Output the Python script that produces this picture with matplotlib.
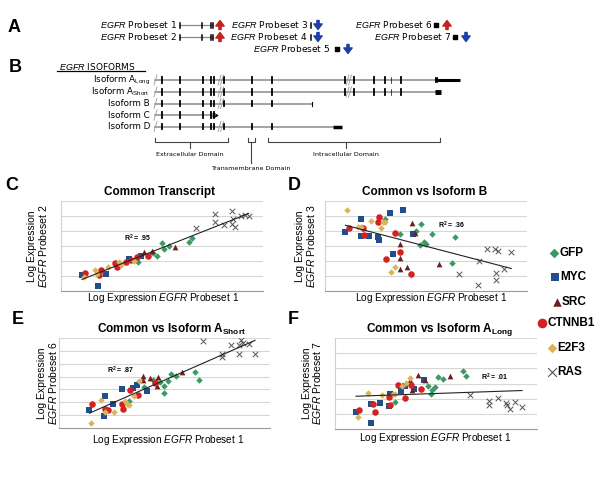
import numpy as np
import matplotlib.pyplot as plt

plt.rcParams['font.family'] = ['Liberation Sans', 'DejaVu Sans']
plt.rcParams['mathtext.fontset'] = 'custom'
plt.rcParams['mathtext.rm'] = 'Liberation Sans'
plt.rcParams['mathtext.it'] = 'Liberation Sans:italic'
plt.rcParams['mathtext.bf'] = 'Liberation Sans:bold'

# ---- scatter data (log expression, arbitrary units) ----
groups = ["GFP", "MYC", "SRC", "CTNNB1", "E2F3", "RAS"]

c_gfp = [(3.81, 1.96), (4.77, 2.36), (5.0, 3.18), (5.10, 2.80), (5.35, 2.98), (6.32, 3.25), (6.50, 3.51), (4.55, 2.54)]
c_myc = [(1.04, 1.08), (1.83, 0.35), (2.21, 1.15), (3.35, 2.14), (3.98, 2.32)]
c_src = [(4.11, 2.63), (4.50, 2.69), (5.66, 2.91)]
c_ctnnb1 = [(1.20, 1.19), (1.86, 1.04), (1.96, 1.43), (2.69, 1.88), (2.76, 1.57), (3.23, 1.92), (3.48, 2.10), (3.78, 2.27), (4.31, 2.36)]
c_e2f3 = [(1.14, 0.93), (1.67, 1.37), (1.78, 1.13), (2.33, 1.63), (2.85, 1.96), (2.99, 1.74), (3.61, 2.01)]
c_ras = [(6.70, 4.19), (7.61, 5.12), (7.64, 4.57), (8.05, 4.42), (8.48, 5.34), (8.51, 4.79), (8.47, 4.50), (8.63, 4.28), (8.93, 4.97), (9.13, 5.06), (9.29, 4.97)]

d_gfp = [(2.95, 4.81), (3.73, 3.82), (4.52, 4.00), (4.74, 4.48), (4.72, 3.05), (4.92, 3.27), (5.02, 3.11), (5.30, 3.82), (6.45, 3.62), (6.29, 1.90)]
d_myc = [(1.01, 3.93), (1.77, 4.81), (1.80, 3.66), (2.16, 3.66), (2.62, 3.62), (2.66, 3.38), (3.22, 5.17), (3.88, 5.39), (3.37, 2.45), (4.34, 3.77)]
d_src = [(4.31, 4.55), (3.73, 3.16), (3.73, 2.23), (3.70, 1.50), (4.06, 1.61), (5.63, 1.79), (4.47, 3.89)]
d_ctnnb1 = [(1.17, 4.22), (1.86, 4.17), (1.91, 3.73), (2.66, 4.94), (2.62, 4.59), (3.45, 3.84), (3.71, 2.60), (3.04, 2.12), (4.26, 1.13)]
d_e2f3 = [(1.09, 5.43), (1.63, 4.28), (1.80, 4.28), (2.29, 4.66), (2.79, 4.22), (2.85, 4.59), (2.99, 4.59), (3.48, 1.63), (3.25, 1.24)]
d_ras = [(8.02, 2.78), (8.40, 2.78), (8.56, 2.67), (9.22, 2.60), (7.61, 2.01), (6.65, 1.13), (8.47, 1.19), (8.84, 1.50), (7.57, 0.40), (8.47, 0.75)]

e_gfp = [(3.30, 2.07), (4.04, 3.19), (4.44, 3.76), (4.79, 3.55), (4.99, 3.29), (4.99, 2.72), (5.18, 3.63), (5.31, 4.17), (5.55, 4.02), (6.46, 4.33), (6.62, 3.76)]
e_myc = [(1.44, 1.42), (2.15, 0.96), (2.18, 2.51), (2.54, 1.89), (2.99, 3.03), (3.52, 3.11), (3.68, 3.37), (4.17, 2.85)]
e_src = [(3.97, 4.02), (4.00, 3.76), (4.33, 3.89), (4.60, 3.63), (4.71, 3.96), (4.63, 3.29), (5.83, 4.35)]
e_ctnnb1 = [(1.55, 1.89), (2.20, 1.48), (2.31, 1.37), (2.97, 1.89), (3.02, 1.48), (3.36, 2.93), (3.74, 2.59), (4.57, 3.50)]
e_e2f3 = [(1.52, 0.39), (1.99, 2.15), (2.18, 1.22), (2.62, 1.24), (3.14, 2.07), (3.21, 1.87), (3.30, 1.81), (3.57, 2.51), (3.81, 3.68)]
e_ras = [(6.81, 6.79), (7.72, 5.78), (7.72, 5.49), (8.14, 6.42), (8.51, 6.42), (8.55, 5.78), (8.64, 6.81), (8.70, 6.61), (9.02, 6.55), (9.29, 5.78)]

f_gfp = [(2.99, 1.78), (4.60, 2.81), (4.80, 2.55), (4.77, 2.33), (4.97, 2.75), (5.08, 3.43), (5.35, 3.30), (6.32, 3.85), (6.49, 3.47)]
f_myc = [(1.04, 1.12), (1.80, 1.67), (2.21, 1.71), (2.69, 1.54), (2.71, 2.31), (3.27, 2.53), (3.45, 2.86), (3.93, 2.64), (4.39, 3.25), (1.80, 0.40)]
f_src = [(3.73, 3.25), (3.81, 2.55), (4.11, 3.58), (4.44, 3.25), (5.68, 3.52)]
f_ctnnb1 = [(1.20, 1.27), (1.86, 1.67), (1.96, 1.14), (2.66, 2.09), (2.74, 1.60), (3.10, 2.92), (3.48, 2.04), (3.78, 2.92), (4.27, 2.64)]
f_e2f3 = [(1.14, 0.79), (1.63, 2.37), (2.33, 2.22), (2.85, 2.31), (2.99, 2.31), (3.32, 2.81), (3.51, 3.03), (3.73, 3.36)]
f_ras = [(6.70, 2.26), (7.61, 1.82), (7.61, 1.56), (8.05, 2.04), (8.47, 1.71), (8.51, 1.60), (8.65, 1.32), (8.89, 1.78), (9.26, 1.45)]

r2_labels = [".95", ".36", ".87", ".01"]
panel_titles = ["Common Transcript", "Common vs Isoform B",
                r"Common vs Isoform A$_{\mathbf{Short}}$", r"Common vs Isoform A$_{\mathbf{Long}}$"]
probeset_y = ["2", "3", "6", "7"]

# ---- diagram data ----
probeset_names = ["1", "2", "3", "4", "5", "6", "7"]
probeset_dir = ["up", "up", "down", "down", "down", "up", "down"]

iso_names = [r"Isoform A$_{\mathrm{Long}}$", r"Isoform A$_{\mathrm{Short}}$", "Isoform B", "Isoform C", "Isoform D"]
exons_front = [162, 180, 203, 211, 213.5]
exons_mid = [223.5, 252, 272]
exons_back = [345, 353.5, 373.5, 385, 401]
iso_end = [437, 437, 312, 215, 333]

style = {
    "GFP": dict(marker="D", color="#3a9a62", s=11),
    "MYC": dict(marker="s", color="#234e8c", s=15),
    "SRC": dict(marker="^", color="#6e1f22", s=17),
    "CTNNB1": dict(marker="o", color="#d42222", s=22),
    "E2F3": dict(marker="D", color="#d8b55c", s=11),
    "RAS": dict(marker="x", color="#555555", s=16),
}

fig = plt.figure(figsize=(6, 4.8), dpi=100)
ax0 = fig.add_axes([0, 0, 1, 1])
ax0.set_xlim(0, 600)
ax0.set_ylim(480, 0)
ax0.axis("off")


def px_rect(left, top, right, bottom):
    return [left / 600, (480 - bottom) / 480, (right - left) / 600, (bottom - top) / 480]


def scatter_panel(rect, ymax, data):
    ax = fig.add_axes(px_rect(*rect))
    ax.patch.set_alpha(0)
    allx, ally = [], []
    for g, pts in zip(groups, data):
        x = [p[0] for p in pts]
        y = [p[1] for p in pts]
        allx += x
        ally += y
        st = style[g]
        if g == "RAS":
            ax.scatter(x, y, marker="x", c=st["color"], s=st["s"], linewidths=0.7, zorder=3)
        else:
            ax.scatter(x, y, marker=st["marker"], c=st["color"], s=st["s"], linewidths=0, zorder=3)
    k, b = np.polyfit(allx, ally, 1)
    xs = np.array([min(allx), max(allx)])
    ax.plot(xs, k * xs + b, color="#222222", lw=0.8, zorder=4)
    ax.set_xlim(0, 10)
    ax.set_ylim(0, ymax)
    ax.set_yticks(range(1, ymax + 1))
    ax.set_xticks([])
    ax.tick_params(length=0, labelleft=False)
    ax.grid(axis="y", color="#d6d6d6", lw=0.8)
    ax.set_axisbelow(True)
    for s in ["top", "right"]:
        ax.spines[s].set_visible(False)
    ax.spines["left"].set_color("#d0d0d0")
    ax.spines["bottom"].set_color("#9a9a9a")
    ax.spines["left"].set_linewidth(0.8)
    ax.spines["bottom"].set_linewidth(0.8)
    return ax


scatter_panel((61, 201, 263, 291), 6, [c_gfp, c_myc, c_src, c_ctnnb1, c_e2f3, c_ras])
scatter_panel((325, 201, 527, 291), 6, [d_gfp, d_myc, d_src, d_ctnnb1, d_e2f3, d_ras])
scatter_panel((59, 338, 270, 428), 7, [e_gfp, e_myc, e_src, e_ctnnb1, e_e2f3, e_ras])
scatter_panel((335, 338, 537, 429), 6, [f_gfp, f_myc, f_src, f_ctnnb1, f_e2f3, f_ras])

# panel texts
title_pos = [(160, 192), (425, 192), (171, 329), (440, 329)]
xlab_pos = [(163, 298), (431, 298), (168, 440), (435, 438)]
ylab_pos = [(32, 43, 246), (300, 311, 246), (42, 53, 383), (307, 317, 383)]
r2_pos = [(138, 238), (452, 225), (121, 370), (495, 377)]
for i in range(4):
    ax0.text(*title_pos[i], panel_titles[i], fontsize=8.5, fontweight="bold", ha="center", va="center")
    ax0.text(*xlab_pos[i], r"Log Expression $\mathit{EGFR}$ Probeset 1", fontsize=7.2, ha="center", va="center")
    lx1, lx2, ly = ylab_pos[i]
    ax0.text(lx1, ly, "Log Expression", fontsize=7.5, rotation=90, ha="center", va="center")
    ax0.text(lx2, ly, r"$\mathit{EGFR}$ Probeset " + probeset_y[i], fontsize=7.5, rotation=90, ha="center", va="center")
    ax0.text(*r2_pos[i], r"R$^{\mathbf{2}}$ = " + r2_labels[i], fontsize=5, fontweight="bold", ha="center", va="center")

for letter, (x, y) in zip("ABCDEF", [(14, 27), (15, 68), (12, 185), (294, 185), (18, 320), (293, 320)]):
    ax0.text(x, y, letter, fontsize=13, fontweight="bold", ha="center", va="center")

# legend
leg_y = [253, 277, 302, 323, 348, 372]
leg_mx = [554, 555, 557, 542, 552, 552]
for g, y, mx in zip(groups, leg_y, leg_mx):
    st = style[g]
    if g == "RAS":
        ax0.scatter([mx], [y], marker="x", c=st["color"], s=40, linewidths=0.8)
    else:
        ax0.scatter([mx], [y], marker=st["marker"], c=st["color"], s=st["s"] * 2.2, linewidths=0)
    ax0.text(mx + 5, y, g, fontsize=8.5, fontweight="bold", ha="left", va="center")

# ---- panel A: probesets ----
dv = ["DejaVu Sans"]
pset_text = [(177, 25), (177, 37), (308, 25), (308, 37), (330, 49), (432, 25), (451, 37)]
pset_arrow = [220, 220, 318, 318, 348, 447, 466]
for name, (tx, ty), ax_, d in zip(probeset_names, pset_text, pset_arrow, probeset_dir):
    ax0.text(tx, ty, r"$\mathit{EGFR}$ Probeset " + name, fontsize=6.5, ha="right", va="center", family=dv)
    col = "#c0241c" if d == "up" else "#1f3fa8"
    y0, y1 = (ty + 4.5, ty - 4.5) if d == "up" else (ty - 4.5, ty + 4.5)
    ax0.annotate("", xy=(ax_, y1), xytext=(ax_, y0),
                 arrowprops=dict(facecolor=col, edgecolor=col, width=1.6, headwidth=6, headlength=4, shrink=0))
for ty in [25, 37]:
    ax0.plot([180, 213], [ty, ty], color="#888888", lw=0.9)
    for ex in [180, 202, 211, 213]:
        ax0.plot([ex, ex], [ty - 2.5, ty + 2.5], color="black", lw=1.1)
    ax0.plot([310.5, 310.5], [ty - 2.5, ty + 2.5], color="black", lw=1.1)
for sx, sy in [(337, 49), (436, 25), (455, 37)]:
    ax0.scatter([sx], [sy], marker="s", c="black", s=10)

# ---- panel B: isoforms ----
ax0.text(59, 66, r"$\mathit{EGFR}$ ISOFORMS", fontsize=6.5, ha="left", va="center", family=dv)
ax0.plot([57, 145], [71, 71], color="black", lw=0.9)
iso_y = [80, 92, 103.5, 115, 126.5]
for i, (name, y) in enumerate(zip(iso_names, iso_y)):
    ax0.text(150, y, name, fontsize=6.3, ha="right", va="center", family=dv)
    end = iso_end[i]
    ax0.plot([155, end], [y, y], color="#8a8a8a", lw=1.1)
    ex = exons_front[:]
    if i != 3:
        ex += exons_mid
    if i < 2:
        ex += exons_back
    for e in ex:
        ax0.plot([e, e], [y - 2.6, y + 2.6], color="black", lw=1.3)
    if i < 2:
        ax0.plot([391, 391], [y - 2.6, y + 2.6], color="black", lw=0.5)
    # break marks
    ax0.plot([154, 157], [y + 5, y - 5], color="#999999", lw=0.6)
    breaks = [] if i == 3 else [219]
    if i < 2:
        breaks.append(347)
    for bx in breaks:
        ax0.plot([bx - 1, bx + 2], [y + 5, y - 5], color="#999999", lw=0.6)
        ax0.plot([bx + 1.5, bx + 4.5], [y + 5, y - 5], color="#999999", lw=0.6)
# ends of the transcripts
ax0.plot([435, 460], [80, 80], color="black", lw=2.2, solid_capstyle="butt")
ax0.plot([435, 438], [80, 80], color="black", lw=4, solid_capstyle="butt")
ax0.plot([435, 441], [92, 92], color="black", lw=3.5, solid_capstyle="butt")
ax0.plot([312, 312], [101.5, 105.5], color="black", lw=0.8)
ax0.scatter([214.5], [115], marker=">", c="black", s=10)
ax0.plot([333, 342], [126.5, 126.5], color="black", lw=2.5, solid_capstyle="butt")

# domain brackets
for l, r, c, drop in [(155, 228, 190, 148), (248, 255, 251, 163), (268, 440, 346, 148)]:
    ax0.plot([l, l, r, r], [138, 142, 142, 138], color="#444444", lw=0.8)
    ax0.plot([c, c], [142, drop], color="#444444", lw=0.8)
ax0.text(190, 154, "Extracellular Domain", fontsize=4.6, ha="center", va="center", family=dv)
ax0.text(251, 169, "Transmembrane Domain", fontsize=4.6, ha="center", va="center", family=dv)
ax0.text(346, 154, "Intracellular Domain", fontsize=4.6, ha="center", va="center", family=dv)

fig.savefig("out.png", dpi=100)
